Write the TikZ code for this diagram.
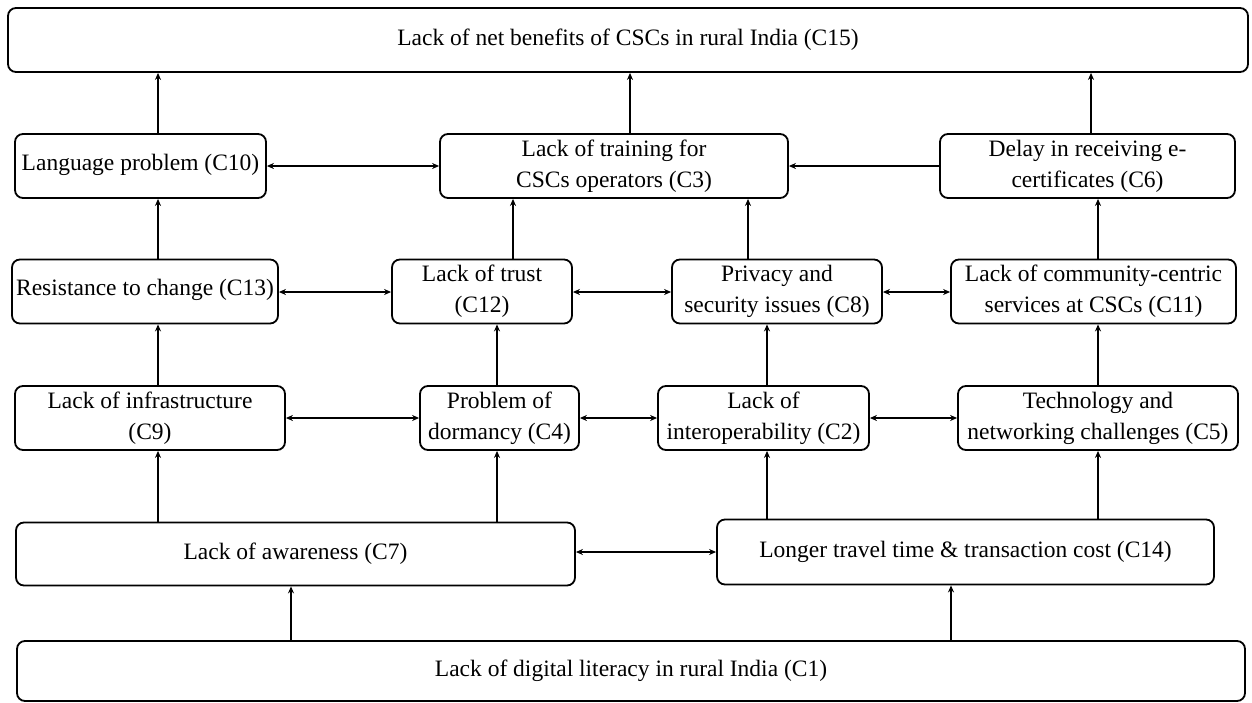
\documentclass[tikz,border=0pt]{standalone}
\usepackage{fontspec}
\setmainfont{Liberation Serif}
\usetikzlibrary{arrows.meta}
\begin{document}
\begin{tikzpicture}[x=1pt,y=-1pt,
 box/.style={draw, line width=1.8pt, rounded corners=8pt, inner sep=0pt, align=center, font=\fontsize{23.5}{31}\selectfont},
 arr/.style={-{Stealth[length=7pt,width=6pt]}, line width=1.6pt},
 darr/.style={{Stealth[length=7pt,width=6pt]}-{Stealth[length=7pt,width=6pt]}, line width=1.6pt}]
\useasboundingbox (0,0) rectangle (1252,702);
% nodes
\node[box, minimum width=1240pt, minimum height=64pt] (c15) at (628,40) {Lack of net benefits of CSCs in rural India (C15)};
\node[box, minimum width=251pt, minimum height=64pt] (c10) at (140.5,166) {\raisebox{7pt}{Language problem (C10)}};
\node[box, minimum width=348pt, minimum height=64pt] (c3) at (614,166) {Lack of training for\\CSCs operators (C3)};
\node[box, minimum width=295pt, minimum height=64pt] (c6) at (1087.5,166) {Delay in receiving e-\\certificates (C6)};
\node[box, minimum width=266pt, minimum height=64pt] (c13) at (145,291.5) {\raisebox{8pt}{Resistance to change (C13)}};
\node[box, minimum width=180pt, minimum height=64pt] (c12) at (482,291.5) {Lack of trust\\(C12)};
\node[box, minimum width=210pt, minimum height=64pt] (c8) at (777,291.5) {Privacy and\\security issues (C8)};
\node[box, minimum width=285pt, minimum height=64pt] (c11) at (1093.5,291.5) {Lack of community-centric\\services at CSCs (C11)};
\node[box, minimum width=270pt, minimum height=64pt] (c9) at (150,418) {Lack of infrastructure\\(C9)};
\node[box, minimum width=159pt, minimum height=64pt] (c4) at (499.5,418) {Problem of\\dormancy (C4)};
\node[box, minimum width=211pt, minimum height=64pt] (c2) at (763.5,418) {Lack of\\interoperability (C2)};
\node[box, minimum width=280pt, minimum height=64pt] (c5) at (1098,418) {Technology and\\networking challenges (C5)};
\node[box, minimum width=559pt, minimum height=63pt] (c7) at (295.5,554) {Lack of awareness (C7)};
\node[box, minimum width=497pt, minimum height=65pt] (c14) at (965.5,552) {Longer travel time \& transaction cost (C14)};
\node[box, minimum width=1228pt, minimum height=60pt] (c1) at (631,671) {Lack of digital literacy in rural India (C1)};
% helper coordinates
\coordinate (xa) at (158,0);
\coordinate (xb) at (630,0);
\coordinate (xc) at (1091,0);
\coordinate (xd) at (513,0);
\coordinate (xe) at (497,0);
\coordinate (xf) at (748,0);
\coordinate (xg) at (767,0);
\coordinate (xh) at (1098,0);
\coordinate (xi) at (291,0);
\coordinate (xj) at (951,0);
\coordinate (yr3) at (0,292);
\coordinate (yr5) at (0,552);
% vertical arrows
\draw[arr] (c10.north -| xa) -- (c15.south -| xa);
\draw[arr] (c3.north -| xb) -- (c15.south -| xb);
\draw[arr] (c6.north -| xc) -- (c15.south -| xc);
\draw[arr] (c13.north -| xa) -- (c10.south -| xa);
\draw[arr] (c12.north -| xd) -- (c3.south -| xd);
\draw[arr] (c8.north -| xf) -- (c3.south -| xf);
\draw[arr] (c11.north -| xh) -- (c6.south -| xh);
\draw[arr] (c9.north -| xa) -- (c13.south -| xa);
\draw[arr] (c4.north -| xe) -- (c12.south -| xe);
\draw[arr] (c2.north -| xg) -- (c8.south -| xg);
\draw[arr] (c5.north -| xh) -- (c11.south -| xh);
\draw[arr] (c7.north -| xa) -- (c9.south -| xa);
\draw[arr] (c7.north -| xe) -- (c4.south -| xe);
\draw[arr] (c14.north -| xg) -- (c2.south -| xg);
\draw[arr] (c14.north -| xh) -- (c5.south -| xh);
\draw[arr] (c1.north -| xi) -- (c7.south -| xi);
\draw[arr] (c1.north -| xj) -- (c14.south -| xj);
% horizontal arrows
\draw[darr] (c10.east) -- (c3.west);
\draw[arr] (c6.west) -- (c3.east);
\draw[darr] (c13.east |- yr3) -- (c12.west |- yr3);
\draw[darr] (c12.east |- yr3) -- (c8.west |- yr3);
\draw[darr] (c8.east |- yr3) -- (c11.west |- yr3);
\draw[darr] (c9.east) -- (c4.west);
\draw[darr] (c4.east) -- (c2.west);
\draw[darr] (c2.east) -- (c5.west);
\draw[darr] (c7.east |- yr5) -- (c14.west |- yr5);
\end{tikzpicture}
\end{document}
